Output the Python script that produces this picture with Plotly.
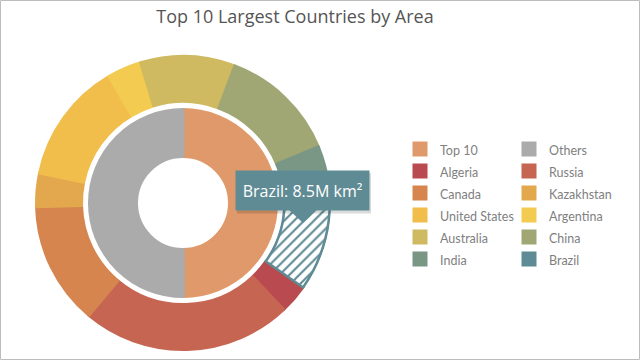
import plotly.graph_objects as go

# ---- data ----
group_labels = ["Top 10", "Others"]
group_values = [73.9, 74.1]
group_colors = ["#E0996A", "#ABABAB"]

country_labels = ["Algeria", "Russia", "Canada", "Kazakhstan", "United States",
                  "Argentina", "Australia", "China", "India", "Brazil"]
country_values = [2.38, 17.1, 9.98, 2.72, 9.83, 2.78, 7.69, 9.6, 3.29, 8.52]
country_colors = ["#B94B50", "#C66552", "#D6854F", "#E3A84D", "#F1BE4C",
                  "#F2CB50", "#CFBA62", "#A0A774", "#7A9786", "#5F8B95"]
highlight = "Brazil"
tooltip_text = "Brazil: 8.5M km²"
title_text = "Top 10 Largest Countries by Area"

W, H = 640, 360
ML, MR = 0, 240
PW = W - ML - MR


def px(x):
    return (x - ML) / PW


def py(y):
    return 1 - y / H


FONT = "Open Sans"
LEG_FONT = "Lato"
CX, CY = 183, 203
BW = 3  # slice outline width (same colour as fill)
R_OUT, R_OUT_IN = 148 - BW / 2, 100 + BW / 2
R_IN, R_HOLE = 95 - BW / 2, 45 + BW / 2


def leg(lbl):
    return f'<span style="font-size:12.5px">{lbl}</span>'


fig = go.Figure()

fig.add_trace(go.Pie(
    labels=[leg(l) for l in group_labels], values=group_values, sort=False, direction="clockwise",
    rotation=0, hole=R_HOLE / R_IN, textinfo="none", hoverinfo="label+value",
    marker=dict(colors=group_colors, line=dict(color=group_colors, width=BW)),
    domain=dict(x=[px(CX - R_IN), px(CX + R_IN)], y=[py(CY + R_IN), py(CY - R_IN)]),
))

fig.add_trace(go.Pie(
    labels=[leg(l) for l in country_labels], values=country_values, sort=False, direction="clockwise",
    rotation=125, hole=R_OUT_IN / R_OUT, textinfo="none", hoverinfo="label+value",
    marker=dict(colors=country_colors, line=dict(color=country_colors, width=BW)),
    domain=dict(x=[px(CX - R_OUT), px(CX + R_OUT)], y=[py(CY + R_OUT), py(CY - R_OUT)]),
))

# hatched overlay for the selected slice
fig.add_trace(go.Pie(
    labels=country_labels, values=country_values, sort=False, direction="clockwise",
    rotation=125, hole=R_OUT_IN / R_OUT, textinfo="none", showlegend=False,
    marker=dict(
        colors=["white" if l == highlight else "rgba(0,0,0,0)" for l in country_labels],
        line=dict(color=["#5F8B95" if l == highlight else "rgba(0,0,0,0)" for l in country_labels],
                  width=[2 if l == highlight else 0 for l in country_labels]),
        pattern=dict(shape=["/" if l == highlight else "" for l in country_labels],
                     fgcolor="#5F8B95", bgcolor="white", size=7, solidity=0.3),
    ),
    domain=dict(x=[px(CX - R_OUT), px(CX + R_OUT)], y=[py(CY + R_OUT), py(CY - R_OUT)]),
))

shapes = [
    # outer border
    dict(type="rect", xref="paper", yref="paper", x0=px(0.5), x1=px(639.5), y0=py(359.5), y1=py(0.5),
         line=dict(color="#BDBDBD", width=1), layer="above"),
    # tooltip shadow
    dict(type="rect", xref="paper", yref="paper", x0=px(237), x1=px(371), y0=py(213.5), y1=py(173),
         fillcolor="rgba(0,0,0,0.14)", line=dict(width=0), layer="above"),
    # tooltip pointer
    dict(type="path", xref="paper", yref="paper",
         path=f"M {px(288)},{py(209)} L {px(318)},{py(209)} L {px(303)},{py(223)} Z",
         fillcolor="#5F8B95", line=dict(width=0), layer="above"),
]

annotations = [
    dict(text=tooltip_text, xref="paper", yref="paper", x=px(302.5), y=py(190),
         xanchor="center", yanchor="middle", showarrow=False, width=133, height=39,
         bgcolor="#5F8B95", borderpad=0, font=dict(family=FONT, size=16, color="white")),
]

fig.update_layout(
    width=W, height=H,
    margin=dict(l=ML, r=MR, t=0, b=0, autoexpand=False),
    paper_bgcolor="white", plot_bgcolor="white",
    title=dict(text=title_text, xref="container", yref="container", x=295 / W, y=1 - 17 / H,
               xanchor="center", yanchor="middle", font=dict(family=FONT, size=18, color="#555555")),
    legend=dict(orientation="h", x=1.0, xanchor="left", y=py(133), yanchor="top",
                entrywidth=64, entrywidthmode="pixels",
                font=dict(family=LEG_FONT, size=14.6, color="#7F7F7F"), traceorder="normal"),
    shapes=shapes, annotations=annotations,
    font=dict(family=FONT),
)

fig.write_html("out.html")
